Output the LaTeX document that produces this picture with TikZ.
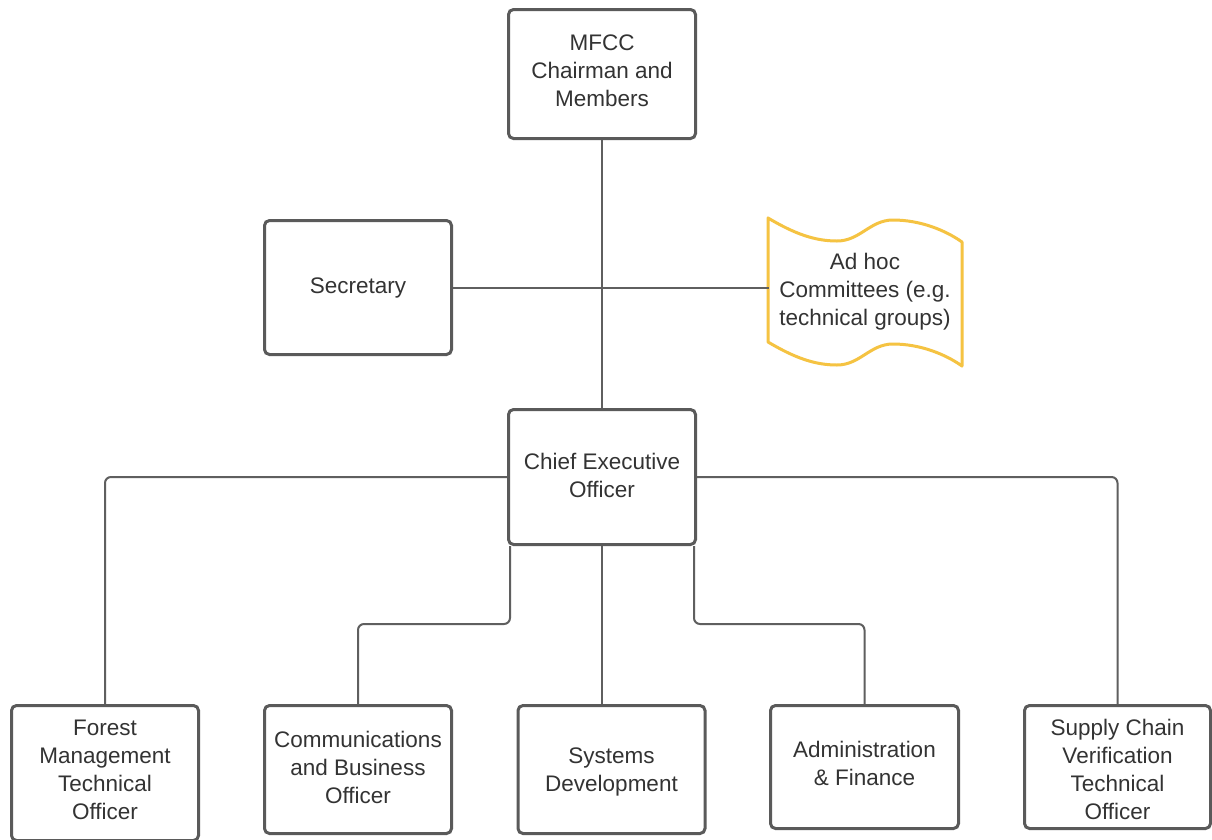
\documentclass[tikz,border=0pt]{standalone}
\usepackage{fontspec}
\setmainfont{Liberation Sans}
\usetikzlibrary{calc}
\definecolor{boxline}{RGB}{90,90,90}
\definecolor{connline}{RGB}{95,95,95}
\definecolor{txt}{RGB}{51,51,51}
\definecolor{adhocy}{RGB}{245,195,66}
\begin{document}
\begin{tikzpicture}[x=1pt,y=-1pt,
  orgbox/.style={draw=boxline, line width=3pt, rounded corners=5pt, fill=white, inner sep=0pt},
  conn/.style={draw=connline, line width=2pt, rounded corners=6pt},
  txtlbl/.style={align=center, text=txt, font=\fontsize{22.5}{28}\selectfont, inner sep=0pt}
]
\useasboundingbox (0,0) rectangle (1212,839);
\clip (0,0) rectangle (1212,839);
\fill[white] (0,0) rectangle (1212,839);

% boxes
\node[orgbox, minimum width=187pt, minimum height=129pt] (mfcc) at (602,74) {};
\node[orgbox, minimum width=187pt, minimum height=134pt] (sec) at (358,287.5) {};
\node[orgbox, minimum width=187pt, minimum height=135pt] (ceo) at (602,477) {};
\node[orgbox, minimum width=187pt, minimum height=135pt] (forest) at (105,773) {};
\node[orgbox, minimum width=187pt, minimum height=128pt] (comms) at (358,769.5) {};
\node[orgbox, minimum width=187pt, minimum height=128pt] (sys) at (611.5,769.5) {};
\node[orgbox, minimum width=188pt, minimum height=123pt] (admin) at (864.5,767) {};
\node[orgbox, minimum width=186pt, minimum height=123pt] (supply) at (1117.5,767) {};

% box texts
\node[txtlbl, yshift=3pt] (mfccT) at (mfcc.center) {MFCC\\Chairman and\\Members};
\node[txtlbl] (secT) at (sec.center) {Secretary};
\node[txtlbl, yshift=2pt] (ceoT) at (ceo.center) {Chief Executive\\Officer};
\node[txtlbl, yshift=3pt] (forestT) at (forest.center) {Forest\\Management\\Technical\\Officer};
\node[txtlbl, yshift=2pt] (commsT) at (comms.center) {Communications\\and Business\\Officer};
\node[txtlbl, yshift=-2pt] (sysT) at (sys.center) {Systems\\Development};
\node[txtlbl, yshift=4pt] (adminT) at (admin.center) {Administration\\\& Finance};
\node[txtlbl, yshift=-2pt] (supplyT) at (supply.center) {Supply Chain\\Verification\\Technical\\Officer};

% ad hoc wave shape
\draw[draw=adhocy, line width=3pt, fill=white, line join=round]
  (768,218) .. controls (795,234) and (815,241) .. (837,241)
  .. controls (860,241) and (870,220) .. (893,220)
  .. controls (920,220) and (945,230) .. (962,242)
  -- (962,366)
  .. controls (945,354) and (920,344) .. (893,344)
  .. controls (870,344) and (860,365) .. (837,365)
  .. controls (815,365) and (795,358) .. (768,342) -- cycle;
\node[txtlbl, minimum width=194pt, minimum height=124pt] (adhoc) at (865,292) {Ad hoc\\Committees (e.g.\\technical groups)};

% connectors
\coordinate (mid) at (602,624);
\coordinate (cl) at ([xshift=3pt]ceo.south west);
\coordinate (cr) at ([xshift=-3pt]ceo.south east);
\coordinate (adW) at (769,287);
\draw[conn] (mfcc.south) -- (ceo.north);
\draw[conn] (sec.east) -- (sec.east -| adW);
\draw[conn] (ceo.west) -| (forest.north);
\draw[conn] (ceo.east) -| (supply.north);
\draw[conn] (cl) -- (cl |- mid) -| (comms.north);
\draw[conn] (ceo.south) -- (ceo.south |- sys.north);
\draw[conn] (cr) -- (cr |- mid) -| (admin.north);
\end{tikzpicture}
\end{document}
